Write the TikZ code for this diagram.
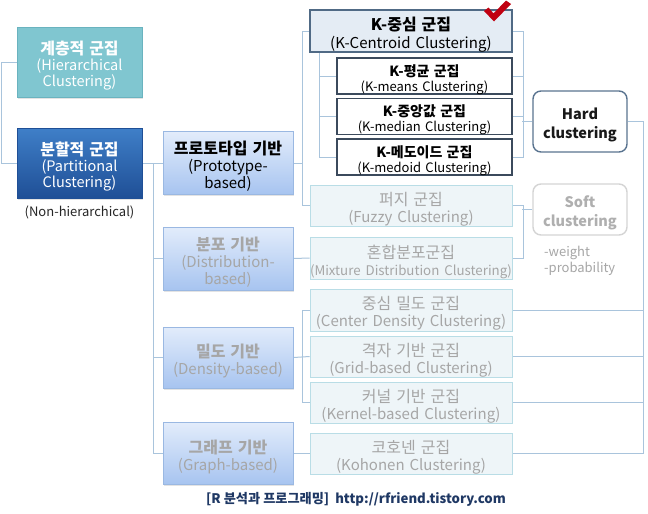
\documentclass[tikz,border=0pt]{standalone}
\usepackage{fontspec}
\setmainfont{Noto Sans CJK KR}
\usetikzlibrary{backgrounds,shadows}
\definecolor{conn}{HTML}{A9C4DC}
\definecolor{hierfill}{HTML}{80C6D0}
\definecolor{hierdraw}{HTML}{6AB3BF}
\definecolor{parttop}{HTML}{3F7FC8}
\definecolor{partbot}{HTML}{1F4F96}
\definecolor{bluetop}{HTML}{E2ECFB}
\definecolor{bluebot}{HTML}{A7C4F0}
\definecolor{bluedraw}{HTML}{9AB8E2}
\definecolor{kdraw}{HTML}{3B4A5C}
\definecolor{kcfill}{HTML}{E4ECF4}
\definecolor{kcdraw}{HTML}{506A85}
\definecolor{lfill}{HTML}{EEF5F8}
\definecolor{ldraw}{HTML}{B9DDE6}
\definecolor{gtext}{HTML}{A6A6A6}
\definecolor{harddraw}{HTML}{5A7490}
\definecolor{softdraw}{HTML}{D4D4D4}
\definecolor{foot}{HTML}{1F3864}
\definecolor{checkred}{HTML}{C00010}
\newcommand{\ttl}{\fontsize{16}{17}\selectfont\bfseries}
\newcommand{\kttl}{\fontsize{14}{15}\selectfont\bfseries}
\newcommand{\shiftdown}{\endgraf\vspace*{-7pt}}
\begin{document}
\begin{tikzpicture}[x=1pt,y=-1pt,
  box/.style={draw, line width=0.8pt, align=center, inner sep=0pt, text width=#1, font=\fontsize{15}{17}\selectfont,
    execute at end node={\shiftdown}},
  shad/.style={drop shadow={opacity=0.22, shadow xshift=1.2pt, shadow yshift=-1.8pt}},
  hierbox/.style={box=125pt, fill=hierfill, draw=hierdraw, text=white, minimum height=70pt, font=\fontsize{14.5}{16}\selectfont, shad},
  partbox/.style={box=125pt, top color=parttop, bottom color=partbot, draw=partbot, text=white, minimum height=70pt, font=\fontsize{14.5}{16}\selectfont, shad},
  bluebox/.style={box=130pt, top color=bluetop, bottom color=bluebot, draw=bluedraw, text=gtext, minimum height=63pt, shad},
  kbox/.style={box=175pt, fill=white, draw=kdraw, line width=1.1pt, minimum height=36pt, font=\fontsize{13}{15}\selectfont},
  kcbox/.style={box=202pt, fill=kcfill, draw=kcdraw, line width=1.1pt, minimum height=42pt, font=\fontsize{15}{18}\selectfont},
  lbox/.style={box=202pt, fill=lfill, draw=ldraw, text=gtext, minimum height=41pt},
  rbox/.style={box=94pt, rounded corners=8pt, line width=1.4pt, font=\fontsize{14.5}{19}\selectfont\bfseries},
  conline/.style={draw=conn, line width=1pt}
]
\path[use as bounding box] (0,0) rectangle (648,514);

% top-level boxes
\node[hierbox] (hier) at (79.5,62) {{\fontsize{16}{16}\selectfont\bfseries 계층적 군집}\\(Hierarchical\\Clustering)};
\node[partbox] (part) at (79.5,163) {{\fontsize{16}{16}\selectfont\bfseries 분할적 군집}\\(Partitional\\Clustering)};
\node[font=\fontsize{13}{15}\selectfont, text=black!85] (nonh) at (79.5,212) {(Non-hierarchical)};

% second level
\node[bluebox, text=black] (proto) at (228,163) {{\ttl 프로토타입 기반}\\(Prototype-\\based)};
\node[bluebox] (distr) at (228,258.5) {{\ttl 분포 기반}\\(Distribution-\\based)};
\node[bluebox, minimum height=61pt] (dens) at (228,357.5) {{\ttl 밀도 기반}\\(Density-based)};
\node[bluebox, minimum height=62pt] (graph) at (228,453.5) {{\ttl 그래프 기반}\\(Graph-based)};

% K boxes
\node[kcbox] (kcent) at (411,31) {{\ttl K-중심 군집}\\(K-Centroid Clustering)};
\node[kbox] (kmeans) at (424.5,76) {{\kttl K-평균 군집}\\(K-means Clustering)};
\node[kbox] (kmedian) at (424.5,116.5) {{\kttl K-중앙값 군집}\\(K-median Clustering)};
\node[kbox] (kmedoid) at (424.5,157) {{\kttl K-메도이드 군집}\\(K-medoid Clustering)};

% light boxes
\node[lbox] (fuzzy) at (411,205.5) {{\ttl\mdseries 퍼지 군집}\\(Fuzzy Clustering)};
\node[lbox, minimum height=42pt] (mixture) at (411,258) {{\ttl\mdseries 혼합분포군집}\\{\fontsize{13.3}{17}\selectfont (Mixture Distribution Clustering)}};
\node[lbox, minimum height=42pt] (cden) at (411,310) {{\ttl\mdseries 중심 밀도 군집}\\(Center Density Clustering)};
\node[lbox] (grid) at (411,356.5) {{\ttl\mdseries 격자 기반 군집}\\(Grid-based Clustering)};
\node[lbox] (kern) at (411,402.5) {{\ttl\mdseries 커널 기반 군집}\\(Kernel-based Clustering)};
\node[lbox] (koh) at (411,453.5) {{\ttl\mdseries 코호넨 군집}\\(Kohonen Clustering)};

% hard / soft
\node[rbox, draw=harddraw, fill=white, text=black!90, minimum height=61pt] (hard) at (580,121.5) {Hard\\clustering};
\node[rbox, draw=softdraw, fill=white, text=gtext!90, minimum height=51pt] (soft) at (580,209.5) {Soft\\clustering};
\node[anchor=north west, align=left, inner sep=0pt, text=gtext, font=\fontsize{13}{16}\selectfont] (wp) at (544,246) {-weight\\-probability};

% footer
\node[text=foot, font=\fontsize{13.2}{15}\selectfont\bfseries] (footer) at (356,499) {[R 분석과 프로그래밍]\ \ http://rfriend.tistory.com};

% check mark
\fill[checkred] (484,11) -- (488.5,7.5) -- (493.5,13.5) -- (506,0.5) -- (511,4) -- (494,21.5) -- cycle;

% connectors drawn on background
\begin{scope}[on background layer]
\fill[white] (0,0) rectangle (648,514);
\begin{scope}[conline]
% left bracket
\draw (hier.west) -- ++(-15,0) |- (part.west);
% partitional to second level
\draw (part.east) -- (proto.west);
\draw ([xshift=11pt]part.east) |- (distr.west);
\draw ([xshift=11pt]part.east) |- (dens.west);
\draw ([xshift=11pt]part.east) |- (graph.west);
% bottom loop to right bus
\draw (graph.east) -- (koh.west);
\draw (koh.east) -- ++(131,0) |- (hard.east);
\draw (cden.east) -- ++(131,0);
\draw (grid.east) -- ++(131,0);
\draw (kern.east) -- ++(131,0);
% prototype branches
\draw (proto.east) -- ++(9,0) |- (kcent.west);
\draw ([xshift=9pt]proto.east) |- (fuzzy.west);
% K-centroid sub branches
\draw ([xshift=-92pt]kcent.south) |- (kmeans.west);
\draw ([xshift=-92pt]kcent.south) |- (kmedian.west);
\draw ([xshift=-92pt]kcent.south) |- (kmedoid.west);
% to hard clustering
\draw (kcent.east) -- ++(11,0) |- (kmedoid.east);
\draw (kmeans.east) -- ++(11,0);
\draw (kmedian.east) -- ++(11,0);
\draw (hard.west) -- ++(-10,0);
% to soft clustering
\draw (fuzzy.east) -- ++(11,0) |- (mixture.east);
\draw (soft.west) -- ++(-10,0);
\draw (distr.east) -- (mixture.west);
\draw ([xshift=9pt]dens.east) |- (cden.west);
\draw ([xshift=9pt]dens.east) |- (kern.west);
\draw (dens.east) -- (grid.west);
\end{scope}
\end{scope}
\end{tikzpicture}
\end{document}
